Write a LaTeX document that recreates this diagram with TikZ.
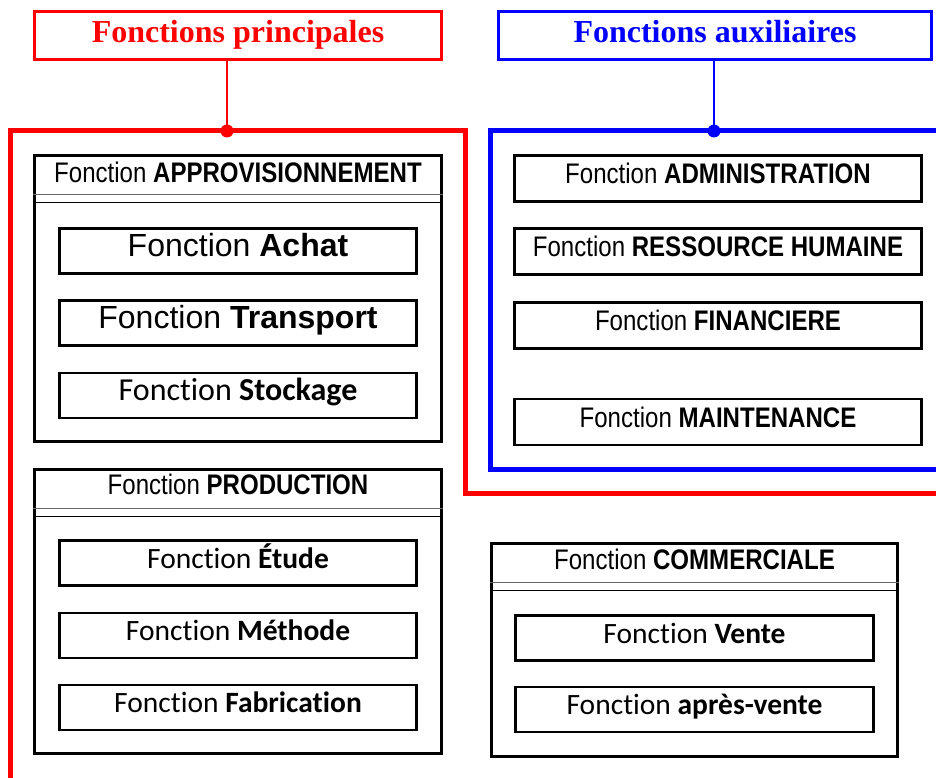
\documentclass[tikz,border=0pt]{standalone}
\usepackage{fontspec}
\setmainfont{Liberation Serif}
\newfontfamily\arialfont{Liberation Sans}
\newfontfamily\narrowfont[FakeStretch=0.85]{Liberation Sans}
\newfontfamily\calibrifont[Ligatures=NoCommon]{Carlito}

\begin{document}
\begin{tikzpicture}[x=1pt,y=-1pt,
  titre/.style={draw=#1, line width=3pt, minimum width=407pt, minimum height=48pt, inner sep=0pt,
    text=#1, text height=22pt, text depth=7pt, font=\fontsize{32}{35}\selectfont\bfseries},
  bloc/.style={draw, line width=3.5pt, minimum width=407pt, minimum height=#1, inner sep=0pt},
  entete/.style={anchor=base, font=\narrowfont\fontsize{28.3}{31}\selectfont},
  fct/.style={draw, line width=2.5pt, minimum width=357pt, minimum height=45pt, inner sep=0pt,
    text height=20pt, text depth=10pt},
  fctA/.style={fct, font=\arialfont\fontsize{32}{35}\selectfont},
  fctC/.style={fct, font=\calibrifont\fontsize{29.5}{32}\selectfont},
  fctN/.style={fct, minimum width=407pt, minimum height=46pt, font=\narrowfont\fontsize{28.3}{31}\selectfont},
  crochet/.style={line width=5pt, miter limit=10}]
\useasboundingbox (0,0) rectangle (936,778);

% titres
\node[titre=red] (titreP) at (238,35.5) {Fonctions principales};
\node[titre=blue, minimum width=433pt] (titreA) at (715,35.5) {Fonctions auxiliaires};

% crochets
\draw[crochet, red] (10.5,778) -- (10.5,131) -- (465.5,131) -- (465.5,493.5) -- (936,493.5);
\draw[crochet, blue] (936,469.5) -- (490.5,469.5) -- (490.5,131) -- (936,131);
\coordinate (pointP) at (227,131);
\coordinate (pointA) at (714,131);
\draw[red, line width=2.5pt] (titreP.south -| pointP) -- (pointP);
\draw[blue, line width=2.5pt] (titreA.south -| pointA) -- (pointA);
\fill[red] (pointP) circle (6.5pt);
\fill[blue] (pointA) circle (6.5pt);

% fonctions principales
\node[bloc=286pt] (approv) at (238,298.5) {};
\node[bloc=284pt] (prod) at (238,611.5) {};
\node[bloc=213pt, minimum width=406pt] (comm) at (694.5,650) {};
\node[entete] (approvT) at ([yshift=-28.5pt]approv.north) {Fonction \textbf{APPROVISIONNEMENT}};
\node[entete] (prodT) at ([yshift=-27pt]prod.north) {Fonction \textbf{PRODUCTION}};
\node[entete] (commT) at ([yshift=-27.5pt]comm.north) {Fonction \textbf{COMMERCIALE}};
\foreach \b in {approv,prod,comm} {
  \draw[line width=1pt, black!60] ([yshift=-41pt]\b.north west) -- ([yshift=-41pt]\b.north east);
  \draw[line width=1.5pt] ([yshift=-48.5pt]\b.north west) -- ([yshift=-48.5pt]\b.north east);
}

\node[fctA] (achat) at (238,251) {Fonction \textbf{Achat}};
\node[fctA] (transport) at (238,323) {Fonction \textbf{Transport}};
\node[fctC, font=\calibrifont\fontsize{32}{35}\selectfont] (stockage) at (238,395.5) {Fonction \textbf{Stockage}};
\node[fctC] (etude) at (238,563) {Fonction \textbf{Étude}};
\node[fctC] (methode) at (238,635.5) {Fonction \textbf{Méthode}};
\node[fctC] (fabrication) at (238,707.5) {Fonction \textbf{Fabrication}};
\node[fctC, minimum width=358pt] (vente) at (694.5,638) {Fonction \textbf{Vente}};
\node[fctC, minimum width=358pt] (apresvente) at (694.5,709.5) {Fonction \textbf{après-vente}};

% fonctions auxiliaires
\node[fctN] (admin) at (718,178.5) {Fonction \textbf{ADMINISTRATION}};
\node[fctN] (rh) at (718,251.5) {Fonction \textbf{RESSOURCE HUMAINE}};
\node[fctN] (finance) at (718,325.5) {Fonction \textbf{FINANCIERE}};
\node[fctN] (maint) at (718,422) {Fonction \textbf{MAINTENANCE}};
\end{tikzpicture}
\end{document}
